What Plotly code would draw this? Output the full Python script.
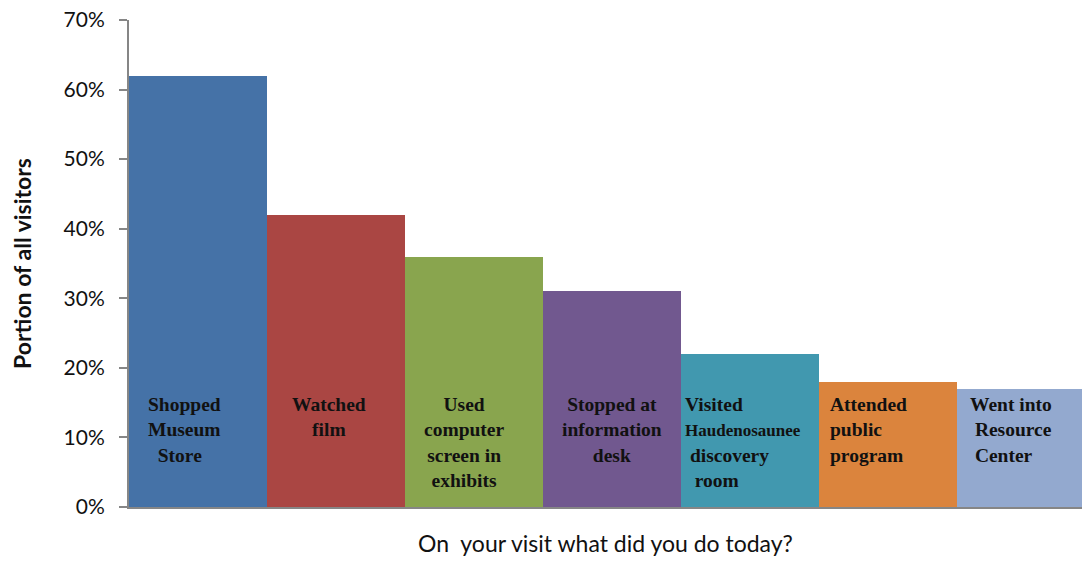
import plotly.graph_objects as go

categories = ["Shopped Museum Store", "Watched film", "Used computer screen in exhibits",
              "Stopped at information desk", "Visited Haudenosaunee discovery room",
              "Attended public program", "Went into Resource Center"]
values = [62, 42, 36, 31, 22, 18, 17]
colors = ["#4572A7", "#AA4643", "#89A54E", "#71588F", "#4198AF", "#DB843D", "#93A9CF"]
bar_labels = [
    "Shopped<br>Museum<br>&nbsp;&nbsp;Store",
    "Watched<br>film",
    "Used<br>computer<br>screen in<br>exhibits",
    "Stopped at<br>information<br>desk",
    "Visited<br><span style='font-size:17px'>Haudenosaunee</span><br>&nbsp;discovery<br>&nbsp;&nbsp;room",
    "Attended<br>public<br>program",
    "Went into<br>&nbsp;Resource<br>&nbsp;Center",
]
y_ticks = [0, 10, 20, 30, 40, 50, 60, 70]
y_tick_labels = [f"{v}%" for v in y_ticks]

x = list(range(len(categories)))
fig = go.Figure(go.Bar(x=x, y=values, marker=dict(color=colors, line=dict(width=0)),
                       width=1.0, hoverinfo="skip"))

# label placement: (x offset from bar center, anchor, align)
place = [(-0.38, "left", "left"), (-0.05, "center", "center"), (-0.07, "center", "center"),
         (0.0, "center", "center"), (-0.48, "left", "left"), (-0.43, "left", "left"),
         (-0.42, "left", "left")]
for i, (lbl, (dx, xa, al)) in enumerate(zip(bar_labels, place)):
    fig.add_annotation(x=i + dx, y=16.6, xref="x", yref="y", text="<b>" + lbl + "</b>",
                       showarrow=False, xanchor=xa, yanchor="top", align=al,
                       font=dict(family="Liberation Serif", size=19.5, color="#111111"))

fig.update_layout(
    width=1082, height=561, margin=dict(l=129, r=0, t=20, b=54),
    paper_bgcolor="white", plot_bgcolor="white", showlegend=False,
    bargap=0,
    xaxis=dict(range=[-0.5, 6.41], showticklabels=False, ticks="", showgrid=False,
               zeroline=False, showline=True, linecolor="#868686", linewidth=2,
               title=dict(text="On&nbsp; your visit what did you do today?",
                          font=dict(family="Lato", size=23, color="#111111"), standoff=28)),
    yaxis=dict(range=[0, 70], tickvals=y_ticks, ticktext=y_tick_labels, ticks="outside",
               ticklen=8, tickcolor="#868686", tickwidth=1.5, showgrid=False, zeroline=False,
               showline=True, linecolor="#868686", linewidth=2, ticklabelstandoff=10,
               tickfont=dict(family="Lato", size=21, color="#111111"),
               title=dict(text="<b>Portion of all visitors</b>",
                          font=dict(family="Lato", size=23, color="#111111"), standoff=26)),
)
fig.write_html("out.html")
